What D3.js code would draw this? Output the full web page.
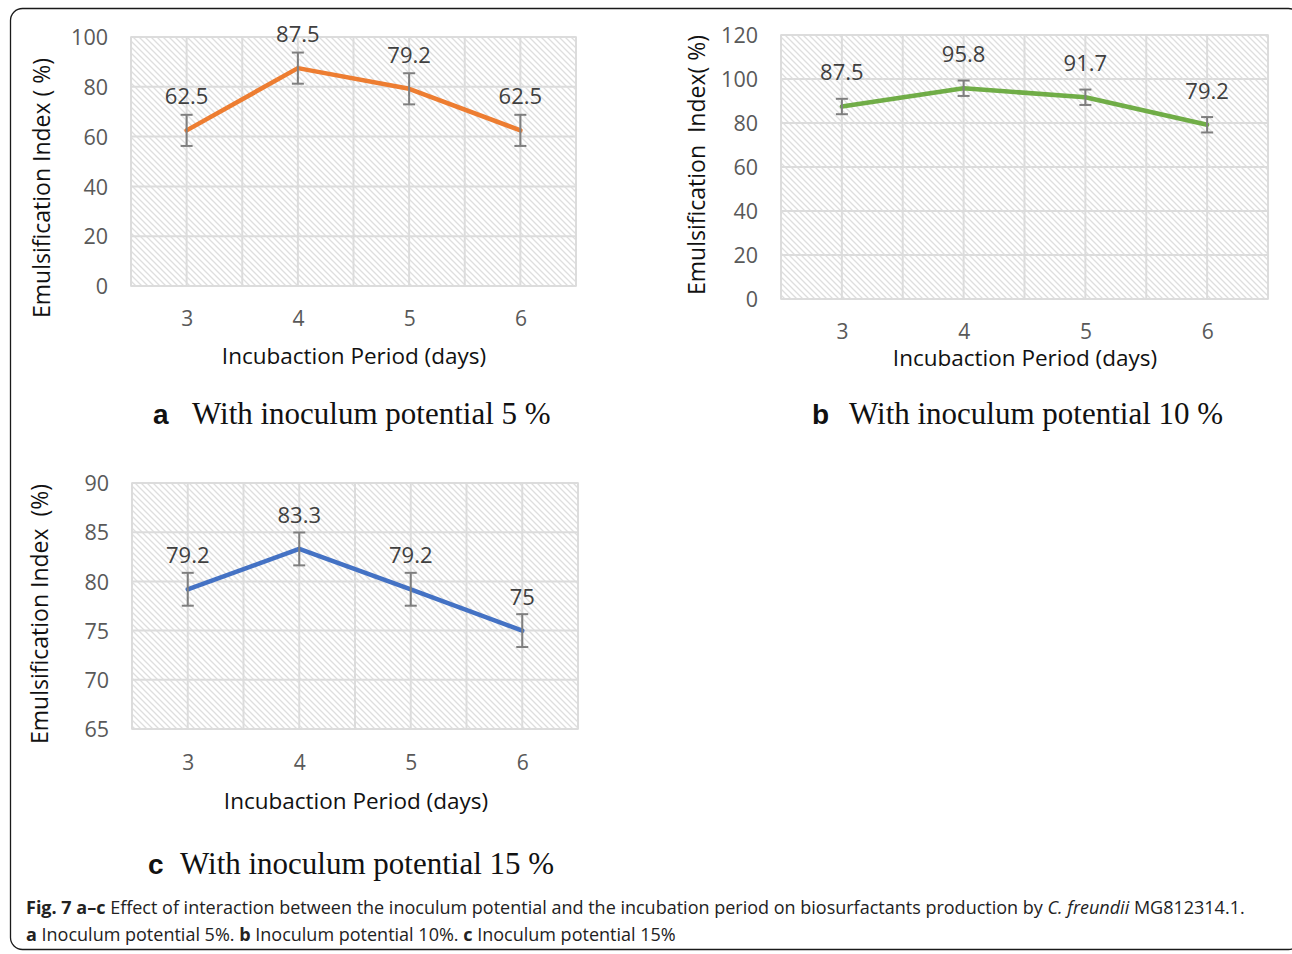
<!DOCTYPE html>
<html>
<head>
<meta charset="utf-8">
<script src="https://cdn.jsdelivr.net/npm/d3@7"></script>
<style>
  html, body { margin: 0; padding: 0; background: #fff; }
  svg { display: block; }
</style>
</head>
<body>
<svg id="fig" width="1292" height="954"></svg>
<script>
// Incubation period (days)
const days = [3, 4, 5, 6];

// Emulsification index (%) for each inoculum potential
const valuesA = [62.5, 87.5, 79.2, 62.5];   // 5 %
const errorsA = [6.25, 6.25, 6.25, 6.25];
const valuesB = [87.5, 95.8, 91.7, 79.2];   // 10 %
const errorsB = [3.5, 3.5, 3.5, 3.5];
const valuesC = [79.2, 83.3, 79.2, 75];     // 15 %
const errorsC = [1.67, 1.67, 1.67, 1.67];

// Value axis ticks
const ticksA = [0, 20, 40, 60, 80, 100];
const ticksB = [0, 20, 40, 60, 80, 100, 120];
const ticksC = [65, 70, 75, 80, 85, 90];

const svg = d3.select("#fig");
const FONT = "'Open Sans', 'Noto Sans', sans-serif";

// Diagonal hatch used as plot-area fill
const defs = svg.append("defs");
const pat = defs.append("pattern")
  .attr("id", "hatch")
  .attr("patternUnits", "userSpaceOnUse")
  .attr("width", 6).attr("height", 6);
pat.append("rect").attr("width", 6).attr("height", 6).attr("fill", "#fff");
pat.append("path")
  .attr("d", "M-1,-1 L7,7 M-4,2 L2,8 M4,-2 L8,2")
  .attr("stroke", "#dedede").attr("stroke-width", 1.3);

// Outer frame
svg.append("rect")
  .attr("x", 10.5).attr("y", 8.5)
  .attr("width", 1290).attr("height", 941)
  .attr("rx", 12).attr("ry", 12)
  .attr("fill", "none").attr("stroke", "#1a1a1a").attr("stroke-width", 1.3);

function drawPanel(p) {
  const g = svg.append("g");
  const x = d3.scaleLinear().domain([2.5, 6.5]).range([p.left, p.right]);
  const y = d3.scaleLinear().domain(p.domain).range([p.bottom, p.top]);

  // plot area with hatch
  g.append("rect")
    .attr("x", p.left).attr("y", p.top)
    .attr("width", p.right - p.left).attr("height", p.bottom - p.top)
    .attr("fill", "url(#hatch)")
    .attr("stroke", "#d9d9d9").attr("stroke-width", 1.5);

  // vertical gridlines at category centres and boundaries
  const vlines = d3.range(2.5, 6.51, 0.5);
  g.selectAll(".vg").data(vlines).join("line")
    .attr("x1", d => x(d)).attr("x2", d => x(d))
    .attr("y1", p.top).attr("y2", p.bottom)
    .attr("stroke", "#dcdcdc").attr("stroke-width", 2);

  // horizontal gridlines
  g.selectAll(".hg").data(p.ticks).join("line")
    .attr("x1", p.left).attr("x2", p.right)
    .attr("y1", d => y(d)).attr("y2", d => y(d))
    .attr("stroke", "#dcdcdc").attr("stroke-width", 2);

  // value axis labels
  const yAxis = d3.axisLeft(y).tickValues(p.ticks).tickSize(0).tickPadding(0);
  const ya = g.append("g").attr("transform", `translate(${p.tickX},0)`).call(yAxis);
  ya.select(".domain").remove();
  ya.selectAll("text")
    .attr("font-family", FONT).attr("font-size", 21.5).attr("fill", "#595959")
    .attr("dy", "0.36em");

  // category axis labels
  const xAxis = d3.axisBottom(x).tickValues(days).tickSize(0).tickPadding(0).tickFormat(d3.format("d"));
  const xa = g.append("g").attr("transform", `translate(0,${p.catY})`).call(xAxis);
  xa.select(".domain").remove();
  xa.selectAll("text")
    .attr("font-family", FONT).attr("font-size", 21).attr("fill", "#595959")
    .attr("dy", "0.36em");

  // axis titles
  g.append("text")
    .attr("x", p.xTitle[0]).attr("y", p.xTitle[1])
    .attr("text-anchor", "middle").attr("dy", "0.36em")
    .attr("font-family", FONT).attr("font-size", 22.5).attr("fill", "#111")
    .text("Incubaction Period (days)");
  g.append("text")
    .attr("transform", `translate(${p.yTitle[0]},${p.yTitle[1]}) rotate(-90)`)
    .attr("text-anchor", "middle").attr("dy", "0.36em")
    .attr("font-family", FONT).attr("font-size", 23).attr("fill", "#111")
    .attr("xml:space", "preserve")
    .text(p.yTitleText);

  const pts = days.map((d, i) => ({ d, v: p.values[i], e: p.errors[i] }));

  // series line
  g.append("path")
    .datum(pts)
    .attr("d", d3.line().x(o => x(o.d)).y(o => y(o.v)))
    .attr("fill", "none").attr("stroke", p.color)
    .attr("stroke-width", 4.5).attr("stroke-linejoin", "round").attr("stroke-linecap", "round");

  // error bars
  const eb = g.selectAll(".eb").data(pts).join("g").attr("stroke", "#7f7f7f").attr("stroke-width", 2);
  eb.append("line")
    .attr("x1", o => x(o.d)).attr("x2", o => x(o.d))
    .attr("y1", o => y(o.v + o.e)).attr("y2", o => y(o.v - o.e));
  eb.append("line")
    .attr("x1", o => x(o.d) - 6).attr("x2", o => x(o.d) + 6)
    .attr("y1", o => y(o.v + o.e)).attr("y2", o => y(o.v + o.e));
  eb.append("line")
    .attr("x1", o => x(o.d) - 6).attr("x2", o => x(o.d) + 6)
    .attr("y1", o => y(o.v - o.e)).attr("y2", o => y(o.v - o.e));

  // data labels
  g.selectAll(".dl").data(pts).join("text")
    .attr("x", o => x(o.d)).attr("y", o => y(o.v) - 34)
    .attr("text-anchor", "middle").attr("dy", "0.36em")
    .attr("font-family", FONT).attr("font-size", 22).attr("fill", "#404040")
    .text(o => o.v);

  // panel caption
  const cap = g.append("text")
    .attr("x", p.sub[0]).attr("y", p.sub[1]).attr("dy", "0.36em");
  cap.append("tspan")
    .attr("font-family", "'Liberation Sans', Arial, sans-serif").attr("font-weight", "bold")
    .attr("font-size", 28).attr("fill", "#111").text(p.letter);
  cap.append("tspan")
    .attr("x", p.sub[2])
    .attr("font-family", "'Liberation Serif', 'Times New Roman', serif")
    .attr("font-size", 31).attr("fill", "#111").text(p.subText);
}

drawPanel({
  values: valuesA, errors: errorsA, ticks: ticksA, domain: [0, 100], color: "#ED7D31",
  left: 131, right: 576, top: 37, bottom: 286, tickX: 108, catY: 318,
  xTitle: [354, 356], yTitle: [42, 188], yTitleText: "Emulsification Index ( %)",
  letter: "a", subText: "With inoculum potential 5 %", sub: [153, 418, 192]
});
drawPanel({
  values: valuesB, errors: errorsB, ticks: ticksB, domain: [0, 120], color: "#70AD47",
  left: 781, right: 1268, top: 35, bottom: 299, tickX: 758, catY: 331,
  xTitle: [1025, 358], yTitle: [697, 165], yTitleText: "Emulsification  Index( %)",
  letter: "b", subText: "With inoculum potential 10 %", sub: [812, 418, 849]
});
drawPanel({
  values: valuesC, errors: errorsC, ticks: ticksC, domain: [65, 90], color: "#4472C4",
  left: 132, right: 578, top: 483, bottom: 729, tickX: 109, catY: 762,
  xTitle: [356, 801], yTitle: [40, 614], yTitleText: "Emulsification Index  (%)",
  letter: "c", subText: "With inoculum potential 15 %", sub: [148, 868, 180]
});

// figure caption
const CAPFONT = "'Open Sans', 'Noto Sans', sans-serif";
const l1 = svg.append("text").attr("x", 26).attr("y", 914)
  .attr("font-family", CAPFONT).attr("font-size", 18).attr("fill", "#222");
l1.append("tspan").attr("font-weight", "bold").text("Fig. 7 a–c");
l1.append("tspan").text(" Effect of interaction between the inoculum potential and the incubation period on biosurfactants production by ");
l1.append("tspan").attr("font-style", "italic").text("C. freundii");
l1.append("tspan").text(" MG812314.1.");

const l2 = svg.append("text").attr("x", 26).attr("y", 941)
  .attr("font-family", CAPFONT).attr("font-size", 18).attr("fill", "#222");
l2.append("tspan").attr("font-weight", "bold").text("a");
l2.append("tspan").text(" Inoculum potential 5%. ");
l2.append("tspan").attr("font-weight", "bold").text("b");
l2.append("tspan").text(" Inoculum potential 10%. ");
l2.append("tspan").attr("font-weight", "bold").text("c");
l2.append("tspan").text(" Inoculum potential 15%");
</script>
</body>
</html>
